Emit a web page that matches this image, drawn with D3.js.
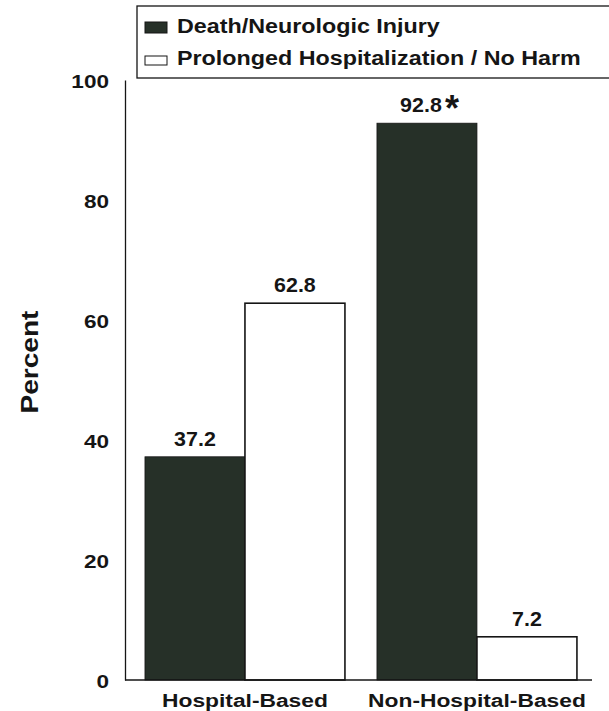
<!DOCTYPE html>
<html>
<head>
<meta charset="utf-8">
<script src="https://cdn.jsdelivr.net/npm/d3@7"></script>
<style>
  body { margin: 0; background: #fff; }
  text { font-family: "Liberation Sans", Arial, sans-serif; font-weight: bold; fill: #151515; }
</style>
</head>
<body>
<div id="chart"></div>
<script>
"use strict";

// data
const groups = ["Hospital-Based", "Non-Hospital-Based"];
const series = ["Death/Neurologic Injury", "Prolonged Hospitalization / No Harm"];
const deathValues = [37.2, 92.8];
const harmValues = [62.8, 7.2];
const starred = [false, true];   // significance mark on the death bar
const yTicks = [0, 20, 40, 60, 80, 100];
const colors = ["#263028", "#ffffff"];

const width = 609, height = 711;
const margin = { left: 125, right: 17, top: 80, bottom: 31 };

let svg = d3.select("#chart").append("svg")
  .attr("width", width)
  .attr("height", height);

//the scanned lettering is a bit wider than the font, so stretch it sideways
function stretched(sel, x, y, sx) {
  return sel.attr("transform", `translate(${x},${y}) scale(${sx},1)`);
}

//scales
const y = d3.scaleLinear().domain([0, 100]).range([height - margin.bottom, margin.top]);
const x0 = d3.scaleBand().domain(groups)
  .range([margin.left, width - margin.right])
  .paddingInner(0.138).paddingOuter(0.0755).align(0.57);
const x1 = d3.scaleBand().domain(series).range([0, x0.bandwidth()]);

const rows = groups.map((g, i) => ({ group: g, star: starred[i], values: [deathValues[i], harmValues[i]] }));

//bars
let bars = svg.selectAll("g.grp")
  .data(rows)
  .enter().append("g")
  .attr("class", "grp")
  .attr("transform", d => `translate(${x0(d.group)},0)`);

bars.selectAll("rect")
  .data(d => d.values.map((v, i) => ({ key: series[i], v: v, i: i, star: d.star && i === 0 })))
  .enter().append("rect")
  .attr("x", d => x1(d.key))
  .attr("y", d => y(d.v))
  .attr("width", x1.bandwidth())
  .attr("height", d => y(0) - y(d.v))
  .attr("fill", d => colors[d.i])
  .attr("stroke", "#151515")
  .attr("stroke-width", d => d.i === 1 ? 1.6 : 0.8);

//value labels, the starred one pushed left to make room for the asterisk
let labels = bars.selectAll("g.val")
  .data(d => d.values.map((v, i) => ({ key: series[i], v: v, i: i, star: d.star && i === 0 })))
  .enter().append("g")
  .attr("class", "val");

labels.append("text")
  .attr("text-anchor", "middle")
  .style("font-size", "21px")
  .each(function(d) {
    const cx = x1(d.key) + x1.bandwidth() / 2 - (d.star ? 6 : 0);
    stretched(d3.select(this), cx, y(d.v) - 11, 1.02);
  })
  .text(d => d.v.toFixed(1));

labels.filter(d => d.star).append("text")
  .attr("x", d => x1(d.key) + x1.bandwidth() / 2 + 18)
  .attr("y", d => y(d.v) - 2)
  .style("font-size", "36px")
  .text("*");

//y axis
let yAxis = svg.append("g")
  .attr("transform", `translate(${margin.left},0)`)
  .call(d3.axisLeft(y).tickValues(yTicks).tickSize(0).tickPadding(16));
yAxis.select(".domain").attr("stroke", "#151515").attr("stroke-width", 1.3);
yAxis.selectAll(".tick text")
  .attr("x", null).attr("dy", null)
  .style("font-size", "18.5px")
  .style("font-family", "Liberation Sans, Arial, sans-serif")
  .style("font-weight", "bold")
  .attr("fill", "#151515")
  .attr("transform", "translate(-16,7) scale(1.22,1)");

//x baseline
svg.append("line")
  .attr("x1", margin.left).attr("x2", width - margin.right)
  .attr("y1", y(0)).attr("y2", y(0))
  .attr("stroke", "#151515").attr("stroke-width", 1.3);

//category labels
svg.selectAll("text.cat")
  .data(groups)
  .enter().append("text")
  .attr("class", "cat")
  .attr("text-anchor", "middle")
  .style("font-size", "19px")
  .each(function(d) {
    stretched(d3.select(this), x0(d) + x0.bandwidth() / 2, y(0) + 27, 1.2);
  })
  .text(d => d);

//axis title
svg.append("text")
  .attr("transform", `translate(38,${(y(0) + y(100)) / 2 - 18}) rotate(-90) scale(1.22,1)`)
  .attr("text-anchor", "middle")
  .style("font-size", "23px")
  .text("Percent");

//legend
let legend = svg.append("g");
legend.append("rect")
  .attr("x", 137).attr("y", 6)
  .attr("width", 480).attr("height", 72)
  .attr("fill", "#fff").attr("stroke", "#151515").attr("stroke-width", 1.3);

let items = legend.selectAll("g.item")
  .data(series)
  .enter().append("g")
  .attr("class", "item")
  .attr("transform", (_, i) => `translate(145,${33 + i * 32})`);

items.append("rect")
  .attr("x", 0).attr("y", (_, i) => i === 0 ? -11 : -9)
  .attr("width", 22).attr("height", (_, i) => i === 0 ? 11 : 9)
  .attr("fill", (_, i) => colors[i])
  .attr("stroke", "#151515").attr("stroke-width", 1);

items.append("text")
  .style("font-size", "21px")
  .each(function() { stretched(d3.select(this), 32, 0, 1.11); })
  .text(d => d);
</script>
</body>
</html>
